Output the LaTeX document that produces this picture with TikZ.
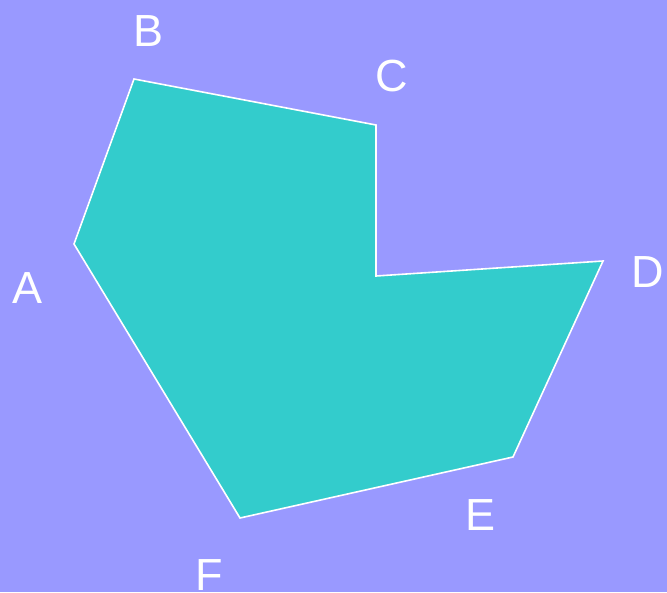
\documentclass[tikz,border=0pt]{standalone}
\usepackage{fontspec}
\setmainfont{Liberation Sans}
\definecolor{bgc}{HTML}{9999FF}
\definecolor{fillc}{HTML}{33CCCC}
\begin{document}
\begin{tikzpicture}[x=1pt,y=-1pt,
  lbl/.style={anchor=base,inner sep=0pt,text=white,font=\fontsize{45}{54}\selectfont}]
\fill[bgc] (0,0) rectangle (667,592);
\useasboundingbox (0,0) rectangle (667,592);
\coordinate (A) at (74,244);
\coordinate (B) at (134,79);
\coordinate (C) at (376,125);
\coordinate (G) at (376,276);
\coordinate (D) at (603,261);
\coordinate (E) at (513,457);
\coordinate (F) at (240,518);
\filldraw[fill=fillc,draw=white,line width=1.6pt,line join=miter]
  (A) -- (B) -- (C) -- (G) -- (D) -- (E) -- (F) -- cycle;
\node[lbl] (lA) at (28,303) {A};
\node[lbl] (lB) at (149,46) {B};
\node[lbl] (lC) at (392,91.5) {C};
\node[lbl] (lD) at (648,287) {D};
\node[lbl] (lE) at (481,530) {E};
\node[lbl] (lF) at (209,590) {F};
\end{tikzpicture}
\end{document}
